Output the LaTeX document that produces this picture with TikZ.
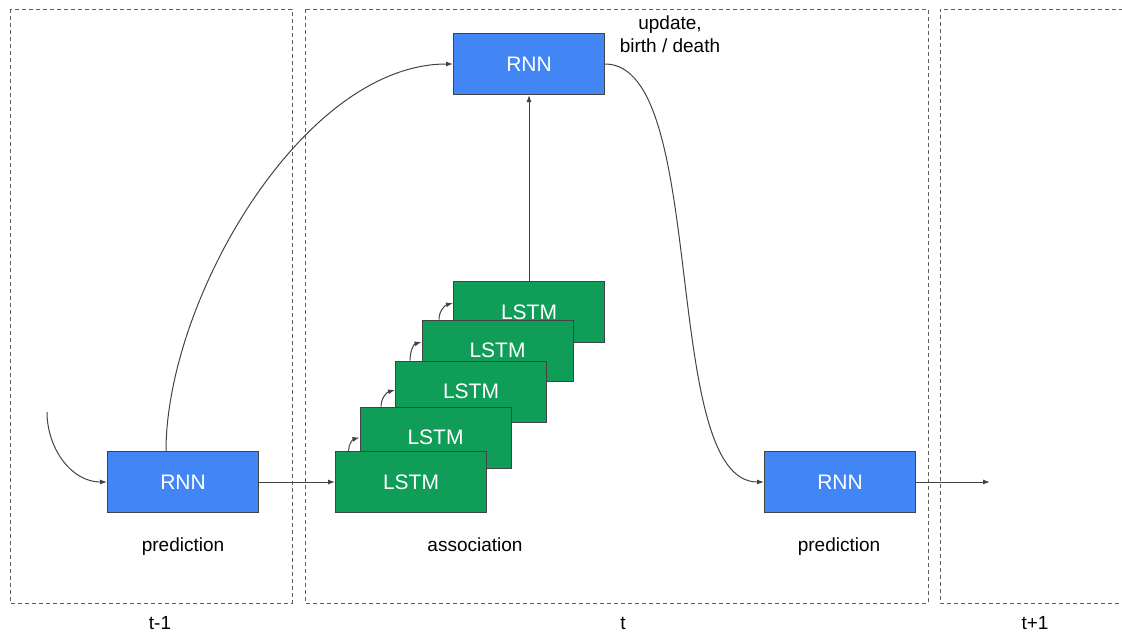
\documentclass[tikz,border=0pt]{standalone}
\usepackage{fontspec}
\setmainfont{Liberation Sans}
\usetikzlibrary{positioning,shapes,arrows,arrows.meta}
\definecolor{rnnblue}{HTML}{4285F4}
\definecolor{lstmgreen}{HTML}{0F9D58}
\definecolor{edgegray}{HTML}{434343}
\tikzstyle{block}=[draw=edgegray,line width=1pt,minimum width=151pt,minimum height=61pt,inner sep=0pt,text=white,font=\fontsize{21}{25}\selectfont]
\tikzstyle{rnn}=[block,fill=rnnblue]
\tikzstyle{lstm}=[block,fill=lstmgreen]
\tikzstyle{frame}=[draw=edgegray!85,dash pattern=on 4pt off 3pt,line width=0.8pt]
\tikzstyle{caption}=[font=\fontsize{19}{23}\selectfont,anchor=base]
\newcommand{\newBlock}[4]{\node[#3](#1)[#4]{#2};}
\newcommand{\newLink}[3]{\path[->] (#1) edge [#3] (#2);}

\begin{document}
\begin{tikzpicture}[x=1pt,y=-1pt,node distance=76pt,
      >={Latex[length=7pt,width=5pt]},
      every edge/.append style={draw=edgegray,line width=1pt}
      ]
      \useasboundingbox (0,0) rectangle (1122,632);
      % time steps
      \draw[frame] (10,9) rectangle (292,603);
      \draw[frame] (305,9) rectangle (928,603);
      \draw[frame] (1123,9) -- (940,9) -- (940,603) -- (1123,603);
      \node[caption] (tprev) at (160,629) {t-1};
      \node[caption] (tnow) at (623,629) {t};
      \node[caption] (tnext) at (1035,629) {t+1};
      % blocks, back to front
      \newBlock{r1}{RNN}{rnn}{at={(183,482)}}
      \newBlock{l5}{LSTM}{lstm}{at={(529,312)}}
      \newBlock{l4}{LSTM}{lstm}{at={(497.5,350.5)}}
      \newBlock{l3}{LSTM}{lstm}{at={(471,391.5)}}
      \newBlock{l2}{LSTM}{lstm}{at={(435.5,437.5)}}
      \newBlock{l1}{LSTM}{lstm}{right=of r1}
      \newBlock{r2}{RNN}{rnn}{above=186pt of l5}
      \newBlock{r3}{RNN}{rnn}{right=277pt of l1}
      % \newBlock{r4}{RNN}{rnn}{right=of r3}
      \node[caption] (pred1) at (183,551) {prediction};
      \node[caption] (assoc) at (475,551) {association};
      \node[caption] (pred2) at (839,551) {prediction};
      \node[caption,align=center,anchor=center] (upd) at (670,34) {update,\\birth / death};
      \coordinate (feed) at (47,412);
      \coordinate (next) at (990,482);
      \newLink{feed}{r1.west}{out=-90,in=180}
      \newLink{r1.east}{l1.west}{}
      \newLink{[xshift=-17pt]r1.north}{r2.west}{out=90,in=180,looseness=0.8}
      \newLink{[xshift=-62.5pt]l1.north}{l2.west}{out=90,in=195}
      \newLink{[xshift=-54.5pt]l2.north}{[yshift=1.5pt]l3.west}{out=90,in=195}
      \newLink{[xshift=-61pt]l3.north}{[yshift=8.5pt]l4.west}{out=90,in=195}
      \newLink{[xshift=-58.5pt]l4.north}{[yshift=9pt]l5.west}{out=90,in=195}
      \newLink{l5.north}{r2.south}{}
      \newLink{r2.east}{r3.west}{out=0,in=180,looseness=0.6}
      \newLink{r3.east}{next}{}
    \end{tikzpicture}
\end{document}
